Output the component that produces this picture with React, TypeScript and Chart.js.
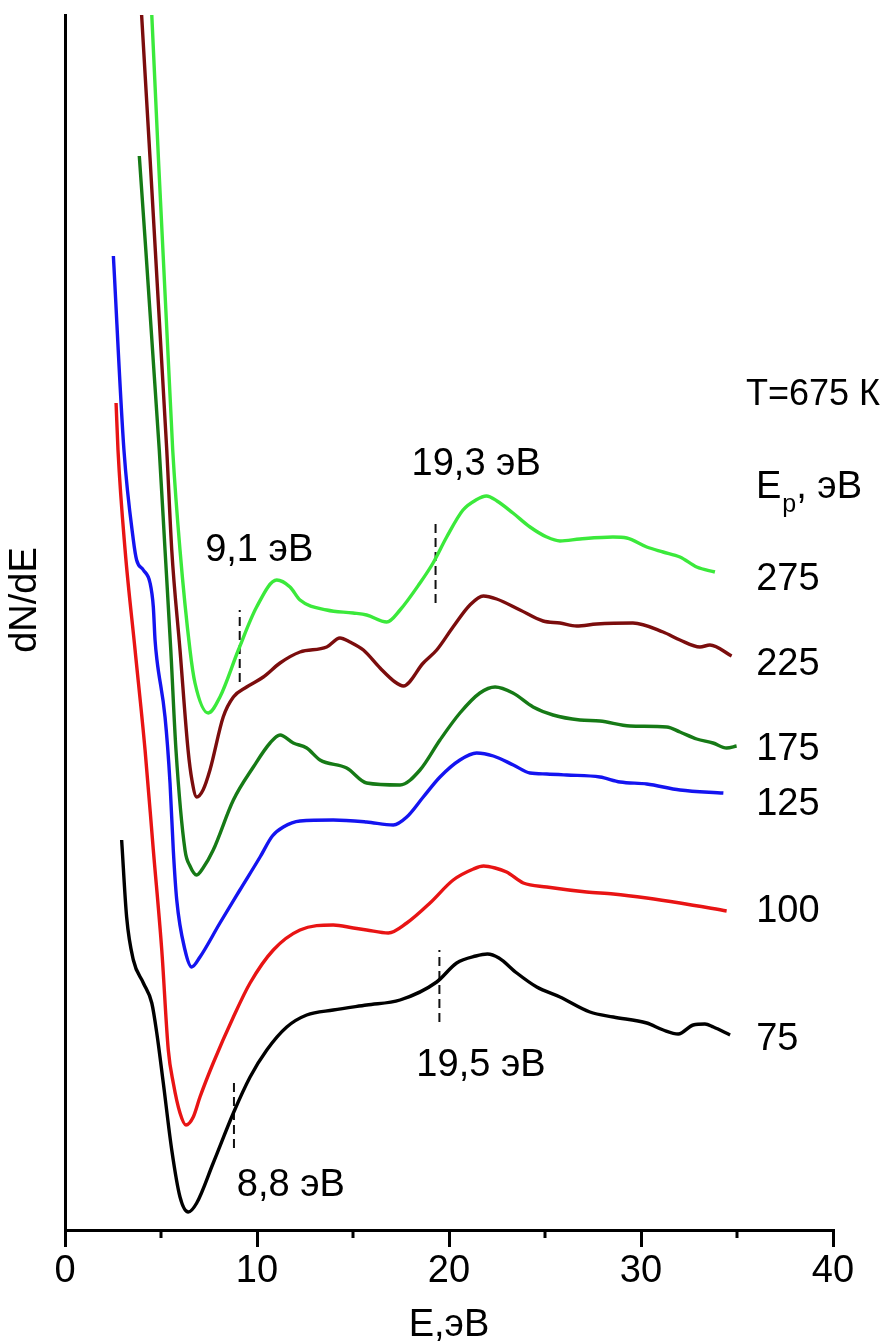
import React, { useEffect, useRef } from 'react';
import { Chart, registerables } from 'chart.js';

Chart.register(...registerables);

// ---- Data (E in eV, dN/dE in arbitrary units) ----
const energy275 = [4.52, 5.61, 5.99, 6.51, 6.77, 7.46, 8.07, 9.03, 9.98, 11.03, 11.72, 12.24, 13.63, 15.0, 15.71, 16.76, 17.45, 18.49, 19.17, 19.88, 20.73, 21.4, 21.95, 22.5, 23.33, 24.22, 25.09, 25.78, 26.82, 28.54, 29.26, 30.3, 31.15, 32.03, 32.9, 33.85];
const signal275 = [12.15, 7.8, 6.8, 5.8, 5.47, 5.17, 5.33, 5.8, 6.23, 6.5, 6.43, 6.3, 6.2, 6.17, 6.15, 6.08, 6.2, 6.47, 6.67, 6.93, 7.2, 7.3, 7.34, 7.29, 7.17, 7.03, 6.93, 6.89, 6.91, 6.93, 6.92, 6.83, 6.78, 6.73, 6.63, 6.58];

const energy225 = [3.99, 5.3, 5.56, 5.99, 6.41, 6.61, 6.86, 7.19, 7.55, 8.24, 8.77, 9.46, 10.33, 11.2, 12.24, 13.63, 14.32, 14.84, 15.54, 16.41, 17.19, 17.62, 18.66, 19.36, 20.21, 21.09, 21.79, 22.48, 23.7, 24.9, 25.78, 26.65, 27.69, 29.58, 31.15, 32.03, 33.07, 33.59, 34.72];
const signal225 = [12.15, 7.8, 6.8, 5.8, 4.8, 4.5, 4.33, 4.4, 4.6, 5.13, 5.33, 5.43, 5.53, 5.67, 5.78, 5.83, 5.92, 5.88, 5.8, 5.62, 5.48, 5.44, 5.67, 5.8, 6.03, 6.25, 6.34, 6.31, 6.2, 6.09, 6.07, 6.04, 6.06, 6.07, 5.98, 5.9, 5.83, 5.85, 5.74];

const energy175 = [3.87, 4.91, 5.21, 5.51, 5.78, 6.25, 6.51, 6.86, 7.19, 7.72, 8.77, 9.81, 10.68, 11.2, 11.89, 12.59, 13.28, 14.67, 15.71, 17.45, 18.49, 19.53, 20.57, 21.61, 22.4, 23.33, 24.38, 25.42, 26.82, 27.86, 29.43, 31.34, 32.03, 32.9, 33.75, 34.46, 34.98];
const signal175 = [10.74, 7.8, 6.8, 5.8, 4.8, 3.8, 3.64, 3.55, 3.62, 3.8, 4.3, 4.63, 4.87, 4.95, 4.87, 4.82, 4.7, 4.62, 4.47, 4.45, 4.6, 4.9, 5.17, 5.37, 5.43, 5.37, 5.23, 5.15, 5.1, 5.09, 5.04, 5.03, 4.98, 4.91, 4.87, 4.82, 4.84];

const energy125 = [2.52, 3.07, 3.56, 3.73, 4.08, 4.43, 4.6, 4.69, 4.79, 5.21, 5.47, 5.64, 5.82, 6.25, 6.6, 7.03, 8.07, 9.11, 10.16, 10.8, 11.37, 12.24, 13.97, 15.71, 17.1, 17.8, 18.66, 19.53, 20.57, 21.44, 22.31, 23.35, 24.22, 25.09, 26.13, 27.86, 28.91, 30.3, 32.03, 34.29];
const signal125 = [9.74, 7.8, 6.9, 6.7, 6.6, 6.47, 6.23, 5.9, 5.7, 5.13, 4.47, 3.8, 3.3, 2.8, 2.63, 2.73, 3.07, 3.4, 3.73, 3.94, 4.03, 4.09, 4.1, 4.08, 4.05, 4.13, 4.33, 4.53, 4.7, 4.77, 4.74, 4.65, 4.57, 4.56, 4.55, 4.53, 4.48, 4.46, 4.4, 4.37];

const energy100 = [2.66, 2.76, 3.13, 3.65, 4.17, 4.6, 5.04, 5.38, 5.64, 5.99, 6.3, 6.68, 7.03, 7.72, 8.77, 9.64, 10.85, 12.24, 13.97, 15.02, 15.71, 16.84, 17.8, 19.01, 20.22, 21.27, 21.8, 22.4, 23.0, 23.87, 25.09, 27.17, 28.56, 30.3, 32.03, 34.46];
const signal100 = [8.27, 7.8, 6.8, 5.8, 4.8, 3.8, 2.8, 1.8, 1.47, 1.17, 1.05, 1.13, 1.33, 1.67, 2.13, 2.47, 2.8, 3.0, 3.05, 3.02, 3.0, 2.97, 3.07, 3.27, 3.5, 3.61, 3.64, 3.62, 3.58, 3.47, 3.43, 3.38, 3.36, 3.32, 3.27, 3.19];

const energy75 = [2.95, 3.21, 3.56, 4.08, 4.52, 4.78, 5.12, 5.56, 5.99, 6.42, 6.86, 7.72, 8.77, 9.64, 10.51, 11.55, 12.59, 13.97, 15.71, 17.45, 19.36, 20.4, 21.4, 22.0, 22.6, 23.53, 24.57, 25.78, 27.34, 28.56, 30.3, 31.16, 31.94, 32.72, 33.33, 33.77, 34.64];
const signal75 = [3.9, 3.13, 2.7, 2.47, 2.27, 1.97, 1.47, 0.8, 0.33, 0.18, 0.27, 0.67, 1.17, 1.53, 1.8, 2.03, 2.15, 2.2, 2.25, 2.3, 2.48, 2.67, 2.74, 2.76, 2.72, 2.57, 2.43, 2.33, 2.18, 2.13, 2.07, 2.0, 1.96, 2.05, 2.06, 2.03, 1.95];

const seriesLabels = ['275', '225', '175', '125', '100', '75'];
const seriesColors = ['#3be93b', '#7b0d0d', '#167a16', '#1414f0', '#e81414', '#000000'];
const seriesEnergy = [energy275, energy225, energy175, energy125, energy100, energy75];
const seriesSignal = [signal275, signal225, signal175, signal125, signal100, signal75];
const labelAtE = 36.0;
const labelAtSignal = [6.5, 5.65, 4.8, 4.25, 3.18, 1.9];

// Marked features
const markerE = [9.1, 19.3, 19.5, 8.8];
const markerLow = [5.48, 6.27, 2.08, 0.82];
const markerHigh = [6.2, 7.1, 2.8, 1.52];
const markerText = ['9,1 эВ', '19,3 эВ', '19,5 эВ', '8,8 эВ'];
const markerTextE = [7.3, 18.05, 18.3, 8.95];
const markerTextSignal = [6.79, 7.65, 1.64, 0.44];

const xTicks = [0, 10, 20, 30, 40];
const xMinorTicks = [5, 15, 25, 35];
const xTitle = 'E,эВ';
const yTitle = 'dN/dE';
const tempText = 'T=675 К';

const FONT = '"Liberation Sans", Arial, sans-serif';
const FS = 38;

const textPlugin = {
  id: 'textPlugin',
  afterDraw(chart: any) {
    const { ctx, chartArea } = chart;
    const x = chart.scales.x;
    const y = chart.scales.y;
    ctx.save();
    // minor ticks
    ctx.strokeStyle = '#000';
    ctx.lineWidth = 3;
    xMinorTicks.forEach((v) => {
      const px = x.getPixelForValue(v);
      ctx.beginPath();
      ctx.moveTo(px, chartArea.bottom);
      ctx.lineTo(px, chartArea.bottom + 8);
      ctx.stroke();
    });
    ctx.fillStyle = '#000';
    ctx.font = `${FS}px ${FONT}`;
    ctx.textBaseline = 'middle';
    ctx.textAlign = 'left';
    seriesLabels.forEach((t, i) => {
      ctx.fillText(t, x.getPixelForValue(labelAtE), y.getPixelForValue(labelAtSignal[i]));
    });
    markerText.forEach((t, i) => {
      ctx.fillText(t, x.getPixelForValue(markerTextE[i]), y.getPixelForValue(markerTextSignal[i]));
    });
    // temperature
    ctx.font = `36px ${FONT}`;
    ctx.fillText(tempText, 746, 395);
    ctx.font = `${FS}px ${FONT}`;
    // E_p, эВ
    const ex = 756;
    const ey = 488;
    ctx.fillText('E', ex, ey);
    const eW = ctx.measureText('E').width;
    ctx.font = `25px ${FONT}`;
    ctx.fillText('p', ex + eW + 1, ey + 17);
    const pW = ctx.measureText('p').width;
    ctx.font = `${FS}px ${FONT}`;
    ctx.fillText(', эВ', ex + eW + pW + 1, ey);
    // x title
    ctx.textAlign = 'center';
    ctx.fillText(xTitle, x.getPixelForValue(20), 1326);
    // y title
    ctx.translate(26, 600);
    ctx.rotate(-Math.PI / 2);
    ctx.fillText(yTitle, 0, 0);
    ctx.restore();
  },
};

export default function App() {
  const canvasRef = useRef<HTMLCanvasElement | null>(null);

  useEffect(() => {
    if (!canvasRef.current) return;
    const datasets: any[] = seriesLabels.map((lbl, i) => ({
      label: lbl,
      data: seriesEnergy[i].map((e, j) => ({ x: e, y: seriesSignal[i][j] })),
      borderColor: seriesColors[i],
      backgroundColor: seriesColors[i],
      borderWidth: 3.4,
      pointRadius: 0,
      cubicInterpolationMode: 'monotone',
      fill: false,
    }));
    markerE.forEach((e, i) => {
      datasets.push({
        label: markerText[i],
        data: [
          { x: e, y: markerLow[i] },
          { x: e, y: markerHigh[i] },
        ],
        borderColor: '#111',
        borderWidth: 2,
        borderDash: [9, 5],
        pointRadius: 0,
        fill: false,
      });
    });

    const chart = new Chart(canvasRef.current, {
      type: 'line',
      data: { datasets },
      options: {
        responsive: false,
        maintainAspectRatio: false,
        animation: false,
        devicePixelRatio: 1,
        layout: { padding: { top: 15, right: 57, left: 0, bottom: 0 } },
        plugins: { legend: { display: false }, tooltip: { enabled: false } },
        scales: {
          x: {
            type: 'linear',
            min: 0,
            max: 40,
            afterFit: (s: any) => {
              s.height = 114;
            },
            afterBuildTicks: (s: any) => {
              s.ticks = xTicks.map((v) => ({ value: v }));
            },
            grid: {
              display: true,
              drawOnChartArea: false,
              drawTicks: true,
              tickLength: 17,
              color: '#000',
              lineWidth: 3,
            },
            border: { display: true, color: '#000', width: 3 },
            ticks: {
              color: '#000',
              font: { size: FS, family: FONT },
              padding: 2,
              maxRotation: 0,
              autoSkip: false,
            },
          },
          y: {
            type: 'linear',
            min: 0,
            max: 12.15,
            afterFit: (s: any) => {
              s.width = 65;
            },
            grid: { display: false },
            border: { display: true, color: '#000', width: 3 },
            ticks: { display: false },
          },
        },
      },
      plugins: [textPlugin],
    });
    return () => chart.destroy();
  }, []);

  return (
    <div style={{ position: 'absolute', left: 0, top: 0, width: 890, height: 1344, background: '#fff' }}>
      <canvas ref={canvasRef} width={890} height={1344} style={{ width: 890, height: 1344, display: 'block' }} />
    </div>
  );
}
